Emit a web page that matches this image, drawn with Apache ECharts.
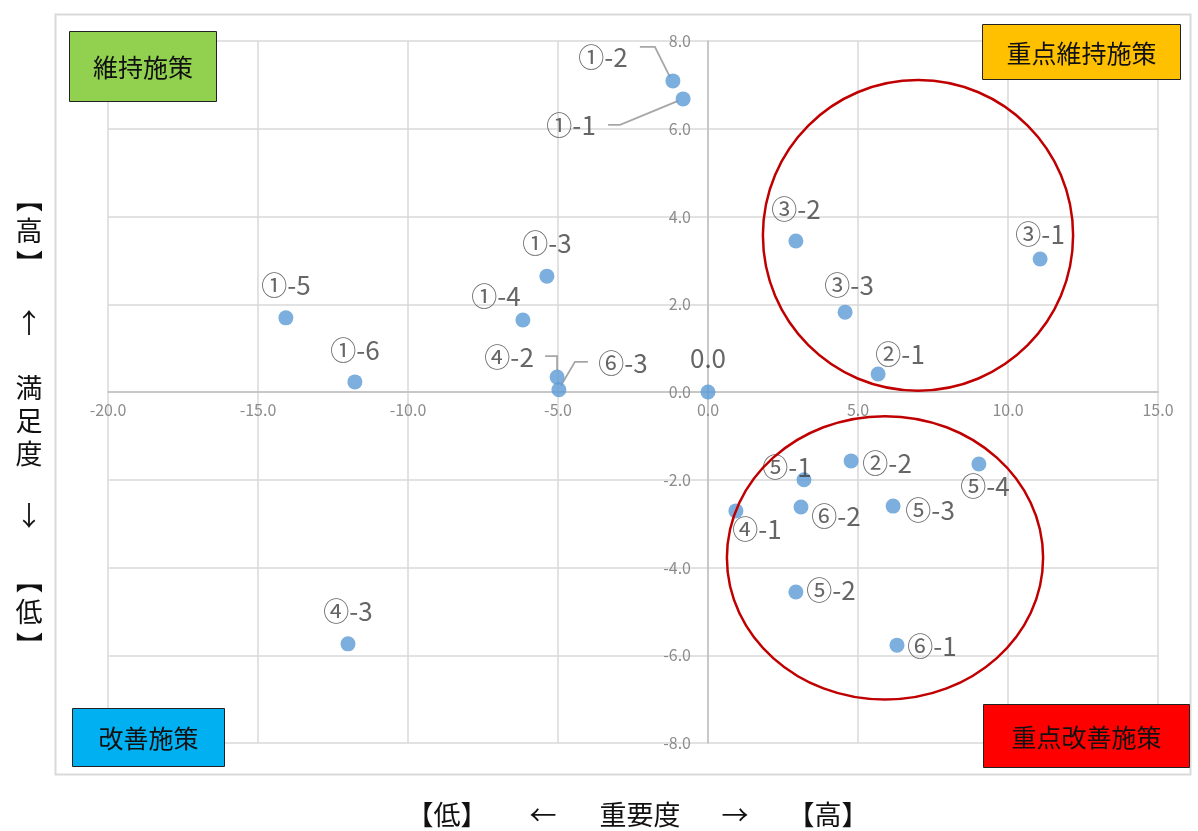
<!DOCTYPE html>
<html>
<head>
<meta charset="utf-8">
<style>
  html, body { margin: 0; padding: 0; background: #fff; }
  #chart { width: 1198px; height: 831px; }
</style>
<script src="https://cdn.jsdelivr.net/npm/echarts@6/dist/echarts.min.js"></script>
</head>
<body>
<div id="chart"></div>
<script>
// 重要度 (x) と 満足度 (y) の散布図
const itemNames = ['①-1', '①-2', '①-3', '①-4', '①-5', '①-6',
                   '②-1', '②-2',
                   '③-1', '③-2', '③-3',
                   '④-1', '④-2', '④-3',
                   '⑤-1', '⑤-2', '⑤-3', '⑤-4',
                   '⑥-1', '⑥-2', '⑥-3', '0.0'];
const importance = [-0.83, -1.17, -5.37, -6.17, -14.07, -11.77,
                    5.67, 4.77,
                    11.07, 2.93, 4.57,
                    0.93, -5.03, -12.0,
                    3.2, 2.93, 6.17, 9.03,
                    6.3, 3.1, -4.97, 0.0];
const satisfaction = [6.68, 7.09, 2.64, 1.64, 1.69, 0.23,
                      0.41, -1.57,
                      3.03, 3.44, 1.82,
                      -2.71, 0.34, -5.74,
                      -2.0, -4.56, -2.6, -1.64,
                      -5.77, -2.62, 0.05, 0.0];
const xTicks = { min: -20, max: 15, step: 5 };
const yTicks = { min: -8, max: 8, step: 2 };

// ラベルの表示位置（点の中心からのずらし量, px）
const labelPlace = {
  '①-1': [-112, 26], '①-2': [-70, -24], '①-3': [0, -33], '①-4': [-27, -24],
  '①-5': [0, -33], '①-6': [0, -32], '②-1': [22, -20], '②-2': [36, 2],
  '③-1': [0, -25], '③-2': [0, -32], '③-3': [4, -27], '④-1': [21, 18],
  '④-2': [-48, -20], '④-3': [0, -33], '⑤-1': [-17, -13], '⑤-2': [35, -2],
  '⑤-3': [37, 4], '⑤-4': [6, 22], '⑥-1': [35, 1], '⑥-2': [35, 9],
  '⑥-3': [64, -27], '0.0': [0, -34]
};
// 引き出し線の折れ点（点の中心からの相対位置, px）
const leaderLines = {
  '①-2': [[-33, -34], [-18, -34], [-3, -4]],
  '①-1': [[-75, 26], [-63, 26], [-5, 2]],
  '④-2': [[-12, -21], [0, -21], [0, -7]],
  '⑥-3': [[29, -28], [16, -28], [2, -4]]
};

const FONT = '"Noto Sans CJK JP", "Noto Sans", sans-serif';
const points = itemNames.map((n, i) => ({ name: n, value: [importance[i], satisfaction[i]] }));

const chart = echarts.init(document.getElementById('chart'), null, { renderer: 'canvas' });

const grid = { left: 108, right: 40, top: 41, bottom: 88 };

const option = {
  animation: false,
  backgroundColor: '#fff',
  textStyle: { fontFamily: FONT },
  grid: grid,
  xAxis: {
    type: 'value', min: xTicks.min, max: xTicks.max, interval: xTicks.step,
    axisLine: { onZero: false, lineStyle: { color: '#bfbfbf', width: 1.5 } },
    axisTick: { show: false },
    axisLabel: {
      color: '#8c8c8c', fontSize: 16, fontFamily: FONT, margin: 10,
      formatter: v => v.toFixed(1)
    },
    splitLine: { show: true, lineStyle: { color: '#d9d9d9', width: 1.5 } }
  },
  yAxis: {
    type: 'value', min: yTicks.min, max: yTicks.max, interval: yTicks.step,
    axisLine: { onZero: false, lineStyle: { color: '#bfbfbf', width: 1.5 } },
    axisTick: { show: false },
    axisLabel: {
      color: '#8c8c8c', fontSize: 16, fontFamily: FONT, margin: 17,
      formatter: v => v.toFixed(1)
    },
    splitLine: { show: true, lineStyle: { color: '#d9d9d9', width: 1.5 } }
  },
  series: [{
    type: 'scatter',
    symbolSize: 15,
    itemStyle: { color: '#5b9bd5' },
    data: points,
    label: {
      show: true,
      position: 'inside',
      formatter: '{b}',
      color: '#404040',
      fontSize: 26,
      fontFamily: FONT
    },
    labelLayout: function (params) {
      const p = labelPlace[itemNames[params.dataIndex]];
      return { dx: p[0], dy: p[1] };
    },
    z: 3
  }]
};
chart.setOption(option);

// 軸線と目盛ラベルを原点 (0, 0) を通る位置へ移す
const origin = chart.convertToPixel({ gridIndex: 0 }, [0, 0]);
const chartH = chart.getHeight();
chart.setOption({
  xAxis: { offset: -((chartH - grid.bottom) - origin[1]) },
  yAxis: { offset: -(origin[0] - grid.left) }
});

// 注目領域を示す赤い楕円（データ座標で中心と半径を指定）
const focusAreas = [
  { cx: 7.0, cy: 3.57, rx: 5.17, ry: 3.54 },
  { cx: 5.9, cy: -3.78, rx: 5.27, ry: 3.23 }
];

function boxGroup(left, top, w, h, fill, rich, text) {
  return {
    type: 'group', left: left, top: top, z: 10,
    children: [
      { type: 'rect', shape: { x: 0, y: 0, width: w, height: h },
        style: { fill: fill, stroke: '#222', lineWidth: 1 } },
      { type: 'text', x: w / 2, y: h / 2 + 1,
        style: { text: text, rich: rich, fontSize: 25, fontFamily: FONT, fill: '#111',
                 align: 'center', verticalAlign: 'middle' } }
    ]
  };
}

function buildGraphic() {
  const els = [];
  // 外枠
  els.push({ type: 'rect', left: 53, top: 12, z: 0, silent: true,
    shape: { x: 0, y: 0, width: 1135, height: 760 },
    style: { fill: 'none', stroke: '#d9d9d9', lineWidth: 2 } });

  focusAreas.forEach(a => {
    const c = chart.convertToPixel({ gridIndex: 0 }, [a.cx, a.cy]);
    const e = chart.convertToPixel({ gridIndex: 0 }, [a.cx + a.rx, a.cy + a.ry]);
    els.push({ type: 'ellipse', z: 5, silent: true,
      shape: { cx: c[0], cy: c[1], rx: Math.abs(e[0] - c[0]), ry: Math.abs(e[1] - c[1]) },
      style: { fill: 'none', stroke: '#c00000', lineWidth: 2.5 } });
  });

  // ラベルの引き出し線
  itemNames.forEach((n, i) => {
    if (!leaderLines[n]) return;
    const p = chart.convertToPixel({ gridIndex: 0 }, [importance[i], satisfaction[i]]);
    els.push({ type: 'polyline', z: 2, silent: true,
      shape: { points: leaderLines[n].map(d => [p[0] + d[0], p[1] + d[1]]) },
      style: { fill: 'none', stroke: '#a6a6a6', lineWidth: 1.8 } });
  });

  els.push(boxGroup(69, 31, 147, 70, '#92d050',
    { b: { color: '#1f3864', fontSize: 25, fontFamily: FONT }, k: { color: '#111', fontSize: 25, fontFamily: FONT } },
    '{b|維持}{k|施策}'));
  els.push(boxGroup(982, 24, 198, 55, '#ffc000', {}, '重点維持施策'));
  els.push(boxGroup(72, 708, 152, 58, '#00b0f0', {}, '改善施策'));
  els.push(boxGroup(983, 704, 206, 63, '#ff0000', {}, '重点改善施策'));

  // 縦軸タイトル（縦書き、括弧は回転して配置）
  const vStyle = { fontSize: 27, fontFamily: FONT, fill: '#111', align: 'center', verticalAlign: 'middle' };
  const rot = -Math.PI / 2;
  [['【', 199, rot], ['高', 231, 0], ['】', 263, rot], ['↑', 323, 0],
   ['満', 388, 0], ['足', 421, 0], ['度', 454, 0], ['↓', 516, 0],
   ['【', 580, rot], ['低', 612, 0], ['】', 645, rot]].forEach(([ch, y, r]) => {
    els.push({ type: 'text', x: 29, y: y, rotation: r, z: 10,
      style: Object.assign({ text: ch }, vStyle) });
  });

  // 横軸タイトル
  const hStyle = { fontSize: 27, fontFamily: FONT, fill: '#111', align: 'center', verticalAlign: 'middle' };
  [['【低】', 447], ['←', 543], ['重要度', 640], ['→', 735], ['【高】', 828]].forEach(([t, x]) => {
    els.push({ type: 'text', x: x, y: 815, z: 10, style: Object.assign({ text: t }, hStyle) });
  });
  return els;
}

chart.setOption({ graphic: buildGraphic() });
</script>
</body>
</html>
